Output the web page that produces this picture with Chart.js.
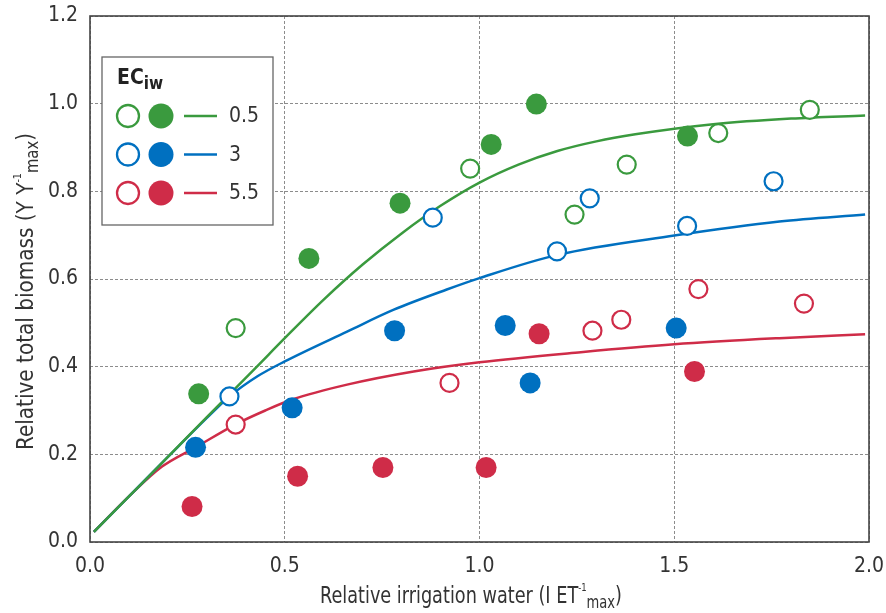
<!DOCTYPE html>
<html>
<head>
<meta charset="utf-8">
<script src="https://cdn.jsdelivr.net/npm/chart.js@4.4.1/dist/chart.umd.min.js"></script>
<style>
  html, body { margin: 0; padding: 0; background: #fff; }
  #wrap { width: 886px; height: 613px; }
</style>
</head>
<body>
<div id="wrap"><canvas id="chart" width="886" height="613"></canvas></div>
<script>
// EC of irrigation water levels (legend)
const ecLevels = ['0.5', '3', '5.5'];

// observed points, [relative irrigation water, relative biomass]
const open05 = [[0.374, 0.488], [0.976, 0.852], [1.244, 0.747], [1.378, 0.861], [1.613, 0.933], [1.848, 0.986]];
const filled05 = [[0.279, 0.338], [0.562, 0.647], [0.796, 0.773], [1.030, 0.907], [1.146, 0.999], [1.534, 0.926]];
const open3 = [[0.358, 0.332], [0.880, 0.740], [1.199, 0.663], [1.283, 0.784], [1.533, 0.721], [1.755, 0.823]];
const filled3 = [[0.271, 0.216], [0.519, 0.306], [0.782, 0.482], [1.066, 0.494], [1.130, 0.363], [1.505, 0.488]];
const open55 = [[0.374, 0.268], [0.923, 0.363], [1.290, 0.482], [1.364, 0.507], [1.562, 0.577], [1.833, 0.544]];
const filled55 = [[0.262, 0.081], [0.533, 0.150], [0.752, 0.170], [1.017, 0.170], [1.153, 0.475], [1.552, 0.389]];

// fitted curves
const curve05X = [0.01, 0.1, 0.2, 0.3, 0.426, 0.5, 0.6, 0.7, 0.8, 0.9, 1.0, 1.1, 1.2, 1.3, 1.4, 1.6, 1.8, 1.99];
const curve05Y = [0.023, 0.104, 0.194, 0.285, 0.398, 0.465, 0.553, 0.633, 0.704, 0.767, 0.82, 0.861, 0.892, 0.914, 0.93, 0.953, 0.966, 0.973];
const curve3X = [0.01, 0.1, 0.2, 0.3, 0.358, 0.43, 0.5, 0.66, 0.78, 0.916, 1.0, 1.2, 1.5, 1.77, 1.99];
const curve3Y = [0.023, 0.104, 0.194, 0.283, 0.332, 0.378, 0.412, 0.48, 0.53, 0.576, 0.602, 0.655, 0.699, 0.731, 0.747];
const curve55X = [0.01, 0.1, 0.185, 0.271, 0.373, 0.45, 0.519, 0.66, 0.831, 1.0, 1.26, 1.5, 1.77, 1.99];
const curve55Y = [0.023, 0.104, 0.172, 0.216, 0.268, 0.3, 0.325, 0.359, 0.389, 0.41, 0.433, 0.451, 0.465, 0.474];

const xTicks = [0, 0.5, 1.0, 1.5, 2.0];
const yTicks = [0, 0.2, 0.4, 0.6, 0.8, 1.0, 1.2];

const colors = ['#3a9a3e', '#0070c0', '#cf2c48'];
const textColor = '#333';
const family = '"DejaVu Sans Condensed", "Liberation Sans Narrow", sans-serif';

const toPts = arr => arr.map(p => ({ x: p[0], y: p[1] }));
const zipPts = (xs, ys) => xs.map((x, i) => ({ x: x, y: ys[i] }));

const openSets = [open05, open3, open55];
const filledSets = [filled05, filled3, filled55];
const curves = [[curve05X, curve05Y], [curve3X, curve3Y], [curve55X, curve55Y]];

const datasets = [];
ecLevels.forEach((lvl, i) => {
    datasets.push({
        label: 'EC ' + lvl + ' open',
        data: toPts(openSets[i]),
        pointRadius: 9,
        pointBackgroundColor: '#fff',
        pointBorderColor: colors[i],
        pointBorderWidth: 2.2,
        order: 1
    });
    datasets.push({
        label: 'EC ' + lvl + ' filled',
        data: toPts(filledSets[i]),
        pointRadius: 10.5,
        pointBackgroundColor: colors[i],
        pointBorderWidth: 0,
        order: 1
    });
    datasets.push({
        label: 'EC ' + lvl + ' fit',
        data: zipPts(curves[i][0], curves[i][1]),
        showLine: true,
        borderColor: colors[i],
        borderWidth: 2.5,
        pointRadius: 0,
        cubicInterpolationMode: 'monotone',
        order: 2
    });
});

// draws text pieces with super/subscripts, squeezed to a given width
const drawRich = (ctx, parts, x, y, width) => {
    let total = 0;
    parts.forEach(p => {
        ctx.font = p.size + 'px ' + family;
        p.w = ctx.measureText(p.t).width;
        total += p.w;
    });
    ctx.save();
    ctx.translate(x, y);
    ctx.scale(width / total, 1);
    let cx = -total / 2;
    parts.forEach(p => {
        ctx.font = p.size + 'px ' + family;
        ctx.fillText(p.t, cx, p.dy || 0);
        cx += p.w;
    });
    ctx.restore();
};

const framePlugin = {
    id: 'frame',
    afterDatasetsDraw(chart) {
        const { ctx, chartArea: a } = chart;
        ctx.save();
        ctx.strokeStyle = '#444';
        ctx.lineWidth = 1.6;
        ctx.strokeRect(a.left, a.top, a.right - a.left, a.bottom - a.top);
        ctx.restore();
    }
};

const titlePlugin = {
    id: 'titles',
    afterDraw(chart) {
        const { ctx } = chart;
        ctx.save();
        ctx.fillStyle = textColor;
        ctx.textBaseline = 'alphabetic';
        ctx.textAlign = 'left';
        drawRich(ctx, [
            { t: 'Relative irrigation water (I ET', size: 23 },
            { t: '-1', size: 11, dy: -12 },
            { t: 'max', size: 17, dy: 5 },
            { t: ')', size: 23 }
        ], 471, 603, 302);
        ctx.translate(33, 291.5);
        ctx.rotate(-Math.PI / 2);
        drawRich(ctx, [
            { t: 'Relative total biomass (Y Y', size: 23 },
            { t: '-1', size: 11, dy: -12 },
            { t: 'max', size: 17, dy: 5 },
            { t: ')', size: 23 }
        ], 0, 0, 317);
        ctx.restore();
    }
};

const legendPlugin = {
    id: 'ecLegend',
    afterDraw(chart) {
        const { ctx, chartArea: a } = chart;
        const left = a.left + 12, top = a.top + 41;
        ctx.save();
        ctx.fillStyle = '#fff';
        ctx.fillRect(left, top, 171, 168);
        ctx.strokeStyle = '#666';
        ctx.lineWidth = 1.3;
        ctx.strokeRect(left, top, 171, 168);

        ctx.fillStyle = '#222';
        ctx.textAlign = 'left';
        ctx.textBaseline = 'alphabetic';
        ctx.font = 'bold 21px ' + family;
        ctx.fillText('EC', left + 15, top + 27);
        const w = ctx.measureText('EC').width;
        ctx.font = 'bold 17px ' + family;
        ctx.fillText('iw', left + 15 + w, top + 32);

        ecLevels.forEach((lvl, i) => {
            const cy = top + 59 + i * 38.5;
            ctx.beginPath();
            ctx.arc(left + 26, cy, 11, 0, Math.PI * 2);
            ctx.fillStyle = '#fff';
            ctx.fill();
            ctx.strokeStyle = colors[i];
            ctx.lineWidth = 2.3;
            ctx.stroke();

            ctx.beginPath();
            ctx.arc(left + 59, cy, 12.5, 0, Math.PI * 2);
            ctx.fillStyle = colors[i];
            ctx.fill();

            ctx.beginPath();
            ctx.moveTo(left + 82, cy);
            ctx.lineTo(left + 115, cy);
            ctx.lineWidth = 2.5;
            ctx.stroke();

            ctx.fillStyle = textColor;
            ctx.font = '21px ' + family;
            ctx.textBaseline = 'middle';
            ctx.fillText(lvl, left + 127, cy + 1);
        });
        ctx.restore();
    }
};

// drop the label overhang so the plot box fills the same area as the figure
const noOverhang = s => {
    s.paddingTop = 0;
    s.paddingBottom = 0;
    s.paddingLeft = 0;
    s.paddingRight = 0;
};

new Chart(document.getElementById('chart'), {
    type: 'scatter',
    data: { datasets: datasets },
    options: {
        responsive: false,
        animation: false,
        layout: { padding: { top: 16, right: 17, left: 0, bottom: 0 } },
        plugins: {
            legend: { display: false },
            tooltip: { enabled: false }
        },
        scales: {
            x: {
                type: 'linear',
                min: 0,
                max: 2,
                afterBuildTicks: s => { s.ticks = xTicks.map(v => ({ value: v })); },
                ticks: {
                    callback: v => v.toFixed(1),
                    font: { family: family, size: 21 },
                    color: textColor,
                    padding: 12
                },
                grid: { color: '#8c8c8c', lineWidth: 1, drawTicks: false },
                border: { display: false, dash: [3, 2] },
                afterFit: s => { s.height = 71; noOverhang(s); }
            },
            y: {
                type: 'linear',
                min: 0,
                max: 1.2,
                afterBuildTicks: s => { s.ticks = yTicks.map(v => ({ value: v })); },
                ticks: {
                    callback: v => v.toFixed(1),
                    font: { family: family, size: 21 },
                    color: textColor,
                    padding: 12
                },
                grid: { color: '#8c8c8c', lineWidth: 1, drawTicks: false },
                border: { display: false, dash: [3, 2] },
                afterFit: s => { s.width = 90; noOverhang(s); }
            }
        }
    },
    plugins: [framePlugin, titlePlugin, legendPlugin]
});
</script>
</body>
</html>
